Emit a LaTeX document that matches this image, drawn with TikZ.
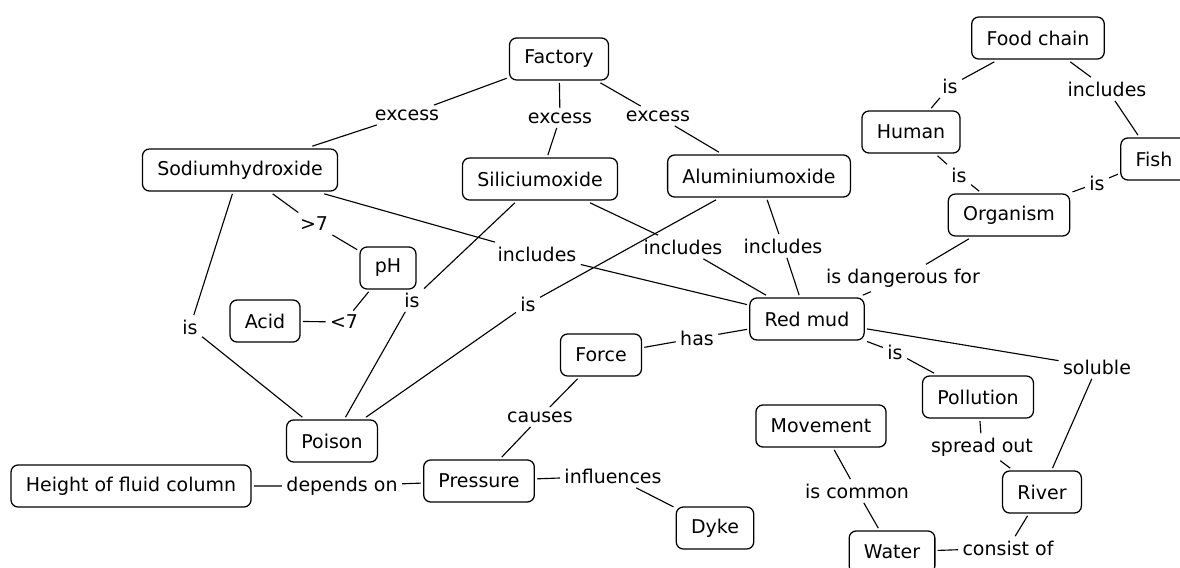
\documentclass[tikz,border=0pt]{standalone}
\usepackage{fontspec}
\setmainfont{DejaVu Sans}

\begin{document}
\begin{tikzpicture}[
    x=0.025cm, y=-0.025cm,
    concept/.style={rectangle, draw, rounded corners=5pt, line width=0.9pt, minimum height=1.05cm, inner xsep=0.37cm, outer sep=2pt, text centered},
    link/.style={inner sep=3pt},
    conn/.style={line width=0.8pt},
	font=\fontsize{13.5}{16}\selectfont
]
\useasboundingbox (0,0) rectangle (1180,567);

% Concepts
\node[concept] (factory) at (559,59) {Factory};
\node[concept] (sodium) at (240,170) {Sodiumhydroxide};
\node[concept] (silicium) at (540,179) {Siliciumoxide};
\node[concept] (aluminium) at (759,176) {Aluminiumoxide};
\node[concept] (foodchain) at (1038,38) {Food chain};
\node[concept] (human) at (911,132) {Human};
\node[concept] (fish) at (1154,159) {Fish};
\node[concept] (organism) at (1009,215) {Organism};
\node[concept] (ph) at (388,268) {pH};
\node[concept] (acid) at (265,321) {Acid};
\node[concept] (redmud) at (807,319) {Red mud};
\node[concept] (force) at (601,355) {Force};
\node[concept] (pollution) at (978,397) {Pollution};
\node[concept] (movement) at (821,426) {Movement};
\node[concept] (poison) at (332,441) {Poison};
\node[concept] (pressure) at (479,481) {Pressure};
\node[concept] (height) at (131,486) {Height of fluid column};
\node[concept] (river) at (1042,492) {River};
\node[concept] (dyke) at (715,528) {Dyke};
\node[concept] (water) at (892,552) {Water};

% Linking phrases
\node[link] (ex1) at (407,115) {excess};
\node[link] (ex2) at (560,118) {excess};
\node[link] (ex3) at (658,116) {excess};
\node[link] (fcis) at (950,86) {is};
\node[link] (fcinc) at (1107,89) {includes};
\node[link] (huis) at (959,175) {is};
\node[link] (fiis) at (1097,183) {is};
\node[link] (danger) at (903,278) {is dangerous for};
\node[link] (gt7) at (314,224) {>7};
\node[link] (lt7) at (344,322) {<7};
\node[link] (soinc) at (537,254) {includes};
\node[link] (siinc) at (683,247) {includes};
\node[link] (alinc) at (783,246) {includes};
\node[link] (sois) at (190,327) {is};
\node[link] (siis) at (412,300) {is};
\node[link] (alis) at (528,304) {is};
\node[link] (has) at (697,338) {has};
\node[link] (rmis) at (895,352) {is};
\node[link] (soluble) at (1097,367) {soluble};
\node[link] (causes) at (540,417) {causes};
\node[link] (depends) at (342,486) {depends on};
\node[link] (influences) at (613,476) {influences};
\node[link] (spread) at (982,447) {spread out};
\node[link] (common) at (857,491) {is common};
\node[link] (consist) at (1008,548) {consist of};

% Connectors
\draw[conn] (factory) -- (ex1) -- (sodium);
\draw[conn] (factory) -- (ex2) -- (silicium);
\draw[conn] (factory) -- (ex3) -- (aluminium);
\draw[conn] (foodchain) -- (fcis) -- (human);
\draw[conn] (foodchain) -- (fcinc) -- (fish);
\draw[conn] (human) -- (huis) -- (organism);
\draw[conn] (fish) -- (fiis) -- (organism);
\draw[conn] (organism) -- (danger) -- (redmud);
\draw[conn] (sodium) -- (gt7) -- (ph);
\draw[conn] (ph) -- (lt7) -- (acid);
\draw[conn] (sodium) -- (soinc) -- (redmud);
\draw[conn] (silicium) -- (siinc) -- (redmud);
\draw[conn] (aluminium) -- (alinc) -- (redmud);
\draw[conn] (sodium) -- (sois) -- (poison);
\draw[conn] (silicium) -- (siis) -- (poison);
\draw[conn] (aluminium) -- (alis) -- (poison);
\draw[conn] (force) -- (has) -- (redmud);
\draw[conn] (redmud) -- (rmis) -- (pollution);
\draw[conn] (redmud) -- (soluble) -- (river);
\draw[conn] (force) -- (causes) -- (pressure);
\draw[conn] (height) -- (depends) -- (pressure);
\draw[conn] (pressure) -- (influences) -- (dyke);
\draw[conn] (pollution) -- (spread) -- (river);
\draw[conn] (movement) -- (common) -- (water);
\draw[conn] (river) -- (consist) -- (water);

\end{tikzpicture}
\end{document}
